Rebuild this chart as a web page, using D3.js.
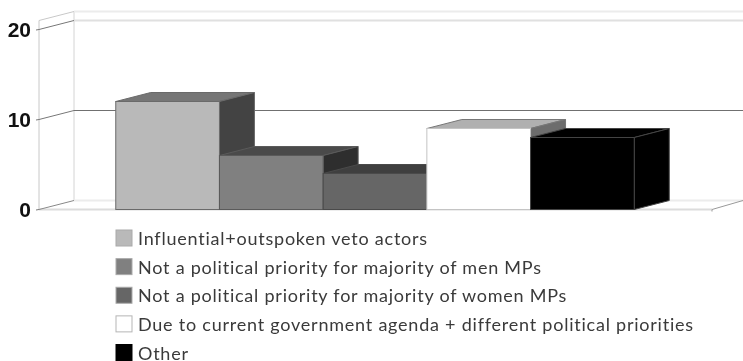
<!DOCTYPE html>
<html><head><meta charset="utf-8">
<script src="https://cdnjs.cloudflare.com/ajax/libs/d3/7.8.5/d3.min.js"></script>
<style>html,body{margin:0;padding:0;background:#fff}svg{display:block;filter:blur(0.45px)}</style></head>
<body><svg id="c" width="743" height="361"></svg>
<script>
const categories=["Influential+outspoken veto actors","Not a political priority for majority of men MPs","Not a political priority for majority of women MPs","Due to current government agenda + different political priorities","Other"];
const values=[12,6,4,9,8];
const frontColors=["#b9b9b9","#808080","#666666","#ffffff","#000000"];
const topColors=["#767676","#4a4a4a","#3f3f3f","#b0b0b0","#000000"];
const sideColors=["#434343","#2e2e2e","#2a2a2a","#6d6d6d","#000000"];
const edgeColors=["#6a6a6a","#5a5a5a","#4a4a4a","#777777","#444444"];
const yTicks=[0,10,20];
const svg=d3.select("#c");
const y=d3.scaleLinear().domain([0,20]).range([209.5,29.5]);
const x=d3.scaleBand().domain(categories).range([38.5,711.5]).paddingInner(0).paddingOuter(0.745);
const dx=35,dy=-9,xL=39,xR=712,yMaxFront=20.5;
const g=svg.append("g");
const line=(x1,y1,x2,y2,c,w)=>g.append("line").attr("x1",x1).attr("y1",y1).attr("x2",x2).attr("y2",y2).attr("stroke",c).attr("stroke-width",w);
// walls
line(xL,yMaxFront,xL,y(0),"#c8c8c8",1);
line(xL+dx,yMaxFront+dy,xL+dx,y(0)+dy,"#d4d4d4",1);
line(xL,yMaxFront,xL+dx,yMaxFront+dy,"#c8c8c8",1);
line(xL+dx,yMaxFront+dy,743,yMaxFront+dy,"#ececec",2);
// gridlines
yTicks.forEach(t=>{
  const c=t===10?"#707070":"#e0e0e0";
  if(t===0){line(xL+dx,y(t)+dy,xR+dx,y(t)+dy,"#ececec",2);line(xL,y(t),xR,y(t),"#dcdcdc",2);}
  else line(xL+dx,y(t)+dy,743,y(t)+dy,c,t===10?1:2);
  line(xL,y(t),xL+dx,y(t)+dy,t===0?"#888888":"#777777",1);
  line(xL-3,y(t)+0.5,xL,y(t),"#777777",1);
});
line(xR,y(0)+2,xR,y(0),"#999999",1);
line(xR,y(0),743,y(0)+dy,"#999999",1);
// bars
const bars=g.selectAll("g.bar").data(categories).join("g").attr("class","bar");
bars.each(function(d,i){
  const b=d3.select(this),x0=x(d),x1=x0+x.bandwidth(),t=y(values[i]),b0=y(0),st=edgeColors[i];
  b.append("polygon").attr("points",[[x0,t],[x1,t],[x1+dx,t+dy],[x0+dx,t+dy]].join(" ")).attr("fill",topColors[i]).attr("stroke",st).attr("stroke-width",1);
  b.append("polygon").attr("points",[[x1,t],[x1+dx,t+dy],[x1+dx,b0+dy],[x1,b0]].join(" ")).attr("fill",sideColors[i]).attr("stroke",st).attr("stroke-width",1);
  b.append("rect").attr("x",x0).attr("y",t).attr("width",x.bandwidth()).attr("height",b0-t).attr("fill",frontColors[i]).attr("stroke",i===3?"#c4c4c4":st).attr("stroke-width",1);
});
// y labels
svg.append("g").selectAll("text").data(yTicks).join("text")
 .attr("x",31).attr("y",t=>y(t)+7.5).attr("text-anchor","end")
 .attr("font-family","Liberation Sans").attr("font-weight","bold").attr("font-size",21).attr("fill","#111").text(t=>t);
// legend
const legendY=d3.scalePoint().domain(categories).range([238,352.5]);
const lg=svg.append("g").selectAll("g").data(categories).join("g").attr("transform",d=>`translate(0,${legendY(d)})`);
lg.append("rect").attr("x",116).attr("y",-8).attr("width",16).attr("height",16)
 .attr("fill",(d,i)=>frontColors[i]).attr("stroke",(d,i)=>i===3?"#b5b5b5":i===4?"#000":"#aaaaaa").attr("stroke-width",1);
lg.append("text").attr("x",138).attr("y",7).attr("font-family","Lato").attr("font-size",18).attr("letter-spacing",0.77).attr("fill","#3a3a3a").text(d=>d);
</script></body></html>
